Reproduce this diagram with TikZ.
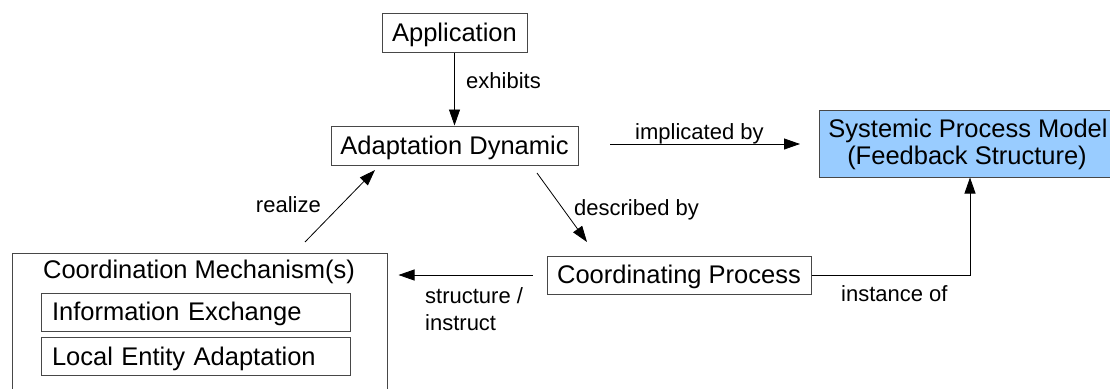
\documentclass[tikz,border=0pt]{standalone}
\usepackage{fontspec}
\setmainfont{Liberation Sans}
\usetikzlibrary{arrows.meta}
\begin{document}
\begin{tikzpicture}[x=1pt,y=-1pt,
  box/.style={draw=black!72,line width=1pt,inner sep=0pt,text height=17.5pt,text depth=0pt,
    font=\fontsize{25.5}{30}\selectfont},
  plain/.style={inner sep=0pt,font=\fontsize{25.5}{30}\selectfont},
  lbl/.style={inner sep=0pt,font=\fontsize{22}{27}\selectfont},
  arr/.style={-{Triangle[length=16pt,width=11pt]},line width=0.8pt,black}]
\useasboundingbox (0,0) rectangle (1110,388);
\clip (0,0) rectangle (1110,388);
\fill[white] (0,0) rectangle (1110,388);

% nodes
\node[box,minimum width=145pt,minimum height=39pt] (app) at (454.5,32.5) {Application};
\node[box,minimum width=247pt,minimum height=39pt] (ad) at (454.5,145.5) {Adaptation Dynamic};
\node[draw=black!72,line width=1pt,fill={rgb,255:red,153;green,204;blue,255},
  minimum width=306pt,minimum height=67pt,inner sep=0pt] (spm) at (972,143.5) {};
\node[plain,anchor=base] (spm1) at (968,137) {Systemic Process Model};
\node[plain,anchor=base] (spm2) at (967,164) {(Feedback Structure)};
\node[box,minimum width=264pt,minimum height=38pt] (cp) at (679,275) {Coordinating Process};
\node[draw=black!72,line width=1pt,minimum width=375pt,minimum height=148pt,inner sep=0pt] (cm) at (199.5,327) {};
\node[plain,anchor=base] (cmt) at (199,278.5) {Coordination Mechanism(s)};
\node[box,text width=287pt,inner xsep=11pt,minimum height=38pt,align=left] (ie) at (195.5,312) {Information Exchange};
\node[box,text width=287pt,inner xsep=11pt,minimum height=38pt,align=left] (lea) at (195.5,356.5) {Local Entity Adaptation};

% helper coordinates for free arrow ends
\coordinate (db1) at (537,173);
\coordinate (db2) at (587,242);
\coordinate (re1) at (305,242);
\coordinate (re2) at (375,170);
\coordinate (im1) at (610,144);
\coordinate (im2) at (800,144);

% connectors
\draw[arr] (app.south) -- (ad.north);
\draw[arr] (im1) -- (im2);
\draw[arr] (db1) -- (db2);
\draw[arr] (re1) -- (re2);
\draw[arr,shorten <=14pt,shorten >=11pt] (cp.west) -- (cp.west -| cm.east);
\draw[arr] (cp.east) -| ([xshift=-2pt]spm.south);

% labels
\node[lbl,anchor=base west] (lexh) at (466,88) {exhibits};
\node[lbl,anchor=base west] (limp) at (635,139) {implicated by};
\node[lbl,anchor=base west] (ldes) at (574,215) {described by};
\node[lbl,anchor=base east] (lrea) at (321,212) {realize};
\node[lbl,anchor=base west] (lstr1) at (425,303) {structure /};
\node[lbl,anchor=base west] (lstr2) at (425,330) {instruct};
\node[lbl,anchor=base west] (lins) at (841,301) {instance of};
\end{tikzpicture}
\end{document}
